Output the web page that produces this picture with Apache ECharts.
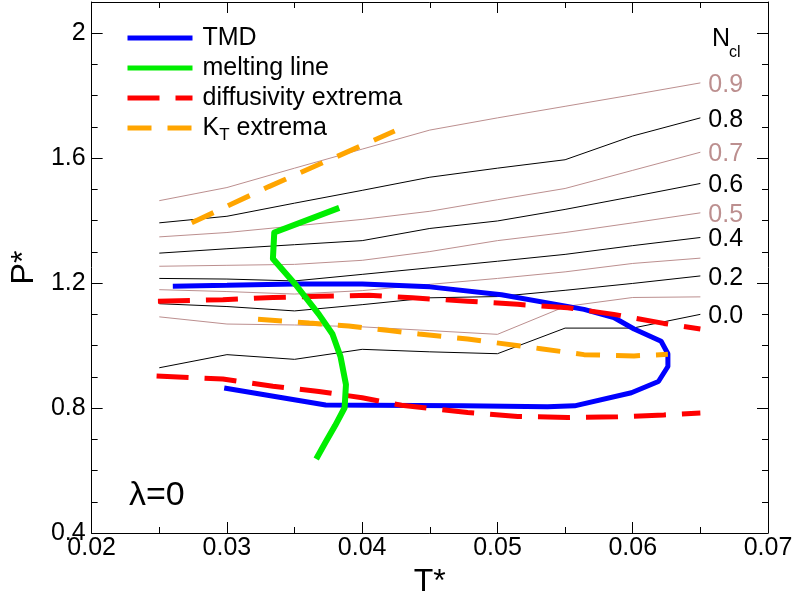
<!DOCTYPE html>
<html>
<head>
<meta charset="utf-8">
<script src="https://cdn.jsdelivr.net/npm/echarts@6/dist/echarts.min.js"></script>
<style>
  html, body { margin: 0; padding: 0; background: #ffffff; }
  #chart { width: 797px; height: 603px; }
</style>
</head>
<body>
<div id="chart"></div>
<script>
// Temperature grid of the cluster-fraction contours
const tGrid = [0.025, 0.030, 0.035, 0.040, 0.045, 0.050, 0.055, 0.060, 0.065];

// Pressure of each N_cl iso-line along tGrid
const ncl00 = [0.929, 0.971, 0.956, 0.988, 0.980, 0.974, 1.056, 1.056, 1.100];
const ncl01 = [1.092, 1.069, 1.066, 1.060, 1.048, 1.036, 1.125, 1.154, 1.156];
const ncl02 = [1.134, 1.125, 1.111, 1.131, 1.153, 1.157, 1.177, 1.199, 1.223];
const ncl03 = [1.179, 1.173, 1.165, 1.176, 1.196, 1.215, 1.236, 1.263, 1.280];
const ncl04 = [1.215, 1.213, 1.207, 1.228, 1.249, 1.270, 1.292, 1.320, 1.346];
const ncl05 = [1.254, 1.257, 1.260, 1.273, 1.301, 1.336, 1.362, 1.393, 1.425];
const ncl06 = [1.296, 1.310, 1.323, 1.336, 1.375, 1.399, 1.436, 1.477, 1.519];
const ncl07 = [1.348, 1.362, 1.383, 1.404, 1.430, 1.467, 1.503, 1.561, 1.619];
const ncl08 = [1.393, 1.414, 1.456, 1.497, 1.539, 1.568, 1.595, 1.671, 1.729];
const ncl09 = [1.464, 1.506, 1.568, 1.629, 1.690, 1.729, 1.766, 1.803, 1.841];

const nclLevels = ['0.0', '0.1', '0.2', '0.3', '0.4', '0.5', '0.6', '0.7', '0.8', '0.9'];
const nclLines = [ncl00, ncl01, ncl02, ncl03, ncl04, ncl05, ncl06, ncl07, ncl08, ncl09];
const nclLabelled = ['0.0', '0.2', '0.4', '0.5', '0.6', '0.7', '0.8', '0.9'];

// Temperature of maximum density
const tmdT = [0.0260, 0.0300, 0.0350, 0.0400, 0.0450, 0.0503, 0.0564, 0.0586, 0.0601, 0.0621,
              0.0626, 0.0626, 0.0619, 0.0599, 0.0557, 0.0537, 0.0474, 0.0373, 0.0298];
const tmdP = [1.190, 1.193, 1.197, 1.197, 1.188, 1.163, 1.116, 1.090, 1.053, 1.014,
              0.974, 0.933, 0.885, 0.849, 0.807, 0.804, 0.807, 0.810, 0.864];

// Melting line
const meltT = [0.0383, 0.0335, 0.0334, 0.0351, 0.0368, 0.0378, 0.0384, 0.0388, 0.0387, 0.0380, 0.0373, 0.0366];
const meltP = [1.441, 1.362, 1.278, 1.194, 1.100, 1.037, 0.964, 0.875, 0.801, 0.744, 0.691, 0.637];

// Diffusivity extrema (maxima above, minima below)
const diffMaxT = [0.0249, 0.0297, 0.0334, 0.0368, 0.0405, 0.0437, 0.0478, 0.0515, 0.0552, 0.0586, 0.0623, 0.0650];
const diffMaxP = [1.142, 1.147, 1.154, 1.158, 1.161, 1.153, 1.142, 1.132, 1.121, 1.100, 1.071, 1.053];
const diffMinT = [0.0248, 0.0297, 0.0334, 0.0368, 0.0400, 0.0429, 0.0478, 0.0515, 0.0552, 0.0589, 0.0623, 0.0650];
const diffMinP = [0.903, 0.893, 0.870, 0.853, 0.833, 0.809, 0.786, 0.773, 0.770, 0.772, 0.778, 0.784];

// Isothermal compressibility extrema
const ktUpperT = [0.0274, 0.0331, 0.0424];
const ktUpperP = [1.393, 1.509, 1.687];
const ktLowerT = [0.0323, 0.0361, 0.0390, 0.0420, 0.0442, 0.0478, 0.0532, 0.0564, 0.0601, 0.0626];
const ktLowerP = [1.084, 1.072, 1.063, 1.048, 1.037, 1.021, 0.990, 0.971, 0.967, 0.972];

// Axis ticks
const xTicks = { min: 0.02, max: 0.07, step: 0.01 };
const yTicks = { min: 0.4, max: 2.1, step: 0.4 };

const FONT = "'Liberation Sans', Arial, Helvetica, sans-serif";
const BROWN = '#bc8f8f';

const pairs = (xs, ys) => xs.map((x, i) => [x, ys[i]]);

const series = [];

nclLines.forEach((vals, k) => {
  const level = nclLevels[k];
  const colour = k % 2 === 0 ? '#000000' : BROWN;
  series.push({
    type: 'line',
    name: 'Ncl ' + level,
    data: pairs(tGrid, vals),
    symbol: 'none',
    z: 1,
    lineStyle: { color: colour, width: 1 },
    endLabel: {
      show: nclLabelled.indexOf(level) >= 0,
      formatter: () => level,
      color: colour,
      fontFamily: FONT,
      fontSize: 25,
      distance: 8,
      offset: [0, 2]
    }
  });
});

series.push({
  type: 'line', name: 'TMD', data: pairs(tmdT, tmdP), symbol: 'none', z: 3,
  lineStyle: { color: '#0000ff', width: 5, cap: 'butt' }
});
series.push({
  type: 'line', name: 'diffusivity extrema', data: pairs(diffMaxT, diffMaxP), symbol: 'none', z: 4,
  lineStyle: { color: '#ff0000', width: 5, type: [32, 16], cap: 'butt' }
});
series.push({
  type: 'line', name: 'diffusivity extrema', data: pairs(diffMinT, diffMinP), symbol: 'none', z: 4,
  lineStyle: { color: '#ff0000', width: 5, type: [32, 16], cap: 'butt' }
});
series.push({
  type: 'line', name: 'KT extrema', data: pairs(ktUpperT, ktUpperP), symbol: 'none', z: 5,
  lineStyle: { color: '#ffa500', width: 5, type: [24, 16], cap: 'butt' }
});
series.push({
  type: 'line', name: 'KT extrema', data: pairs(ktLowerT, ktLowerP), symbol: 'none', z: 5,
  lineStyle: { color: '#ffa500', width: 5, type: [24, 16], cap: 'butt' }
});
series.push({
  type: 'line', name: 'melting line', data: pairs(meltT, meltP), symbol: 'none', z: 6,
  lineStyle: { color: '#00ee00', width: 6, cap: 'butt', join: 'round' }
});

const axisLine = { show: true, onZero: false, lineStyle: { color: '#000', width: 1 } };
const axisTick = { show: true, inside: true, length: 11, lineStyle: { color: '#000' } };
const noSplit = { show: false };

const chart = echarts.init(document.getElementById('chart'), null, { renderer: 'canvas' });

chart.setOption({
  animation: false,
  backgroundColor: '#ffffff',
  grid: { left: 88, right: 29, top: 2, bottom: 60, containLabel: false },
  legend: {
    data: ['TMD', 'melting line', 'diffusivity extrema', 'KT extrema'],
    orient: 'vertical',
    left: 120,
    top: 20,
    padding: 5,
    itemWidth: 65,
    itemHeight: 4,
    itemGap: 4,
    selectedMode: false,
    itemStyle: { color: 'rgba(0,0,0,0)', borderColor: 'rgba(0,0,0,0)', borderWidth: 0, opacity: 0 },
    lineStyle: { width: 5 },
    formatter: (name) => name === 'KT extrema' ? '{k|K}{t|T}{k| extrema}' : name,
    textStyle: {
      fontFamily: FONT,
      fontSize: 25,
      color: '#000',
      lineHeight: 26,
      padding: [0, 0, 0, 5],
      rich: {
        k: { fontFamily: FONT, fontSize: 25, color: '#000' },
        t: { fontFamily: FONT, fontSize: 17, color: '#000', padding: [14, 0, 0, 0] }
      }
    }
  },
  xAxis: [
    {
      type: 'value', position: 'bottom',
      min: xTicks.min, max: xTicks.max, interval: xTicks.step,
      axisLine: axisLine, axisTick: axisTick, splitLine: noSplit,
      minorTick: { show: true, splitNumber: 2, length: 6, lineStyle: { color: '#000' } },
      axisLabel: {
        show: true, margin: 3, fontFamily: FONT, fontSize: 25, color: '#000',
        formatter: (v) => v.toFixed(2)
      },
      name: 'T*', nameLocation: 'middle', nameGap: 33,
      nameTextStyle: { fontFamily: FONT, fontSize: 32, color: '#000' }
    },
    {
      type: 'value', position: 'top',
      min: xTicks.min, max: xTicks.max, interval: xTicks.step,
      axisLine: axisLine, axisTick: axisTick, splitLine: noSplit,
      minorTick: { show: true, splitNumber: 2, length: 6, lineStyle: { color: '#000' } },
      axisLabel: { show: false }
    }
  ],
  yAxis: [
    {
      type: 'value', position: 'left',
      min: yTicks.min, max: yTicks.max, interval: yTicks.step,
      axisLine: axisLine, axisTick: axisTick, splitLine: noSplit,
      minorTick: { show: true, splitNumber: 4, length: 6, lineStyle: { color: '#000' } },
      axisLabel: {
        show: true, margin: 6, fontFamily: FONT, fontSize: 25, color: '#000',
        showMaxLabel: false,
        formatter: (v) => String(Math.round(v * 10) / 10)
      },
      name: 'P*', nameLocation: 'middle', nameGap: 35, nameRotate: 90,
      nameTextStyle: { fontFamily: FONT, fontSize: 32, color: '#000' }
    },
    {
      type: 'value', position: 'right',
      min: yTicks.min, max: yTicks.max, interval: yTicks.step,
      axisLine: axisLine, axisTick: axisTick, splitLine: noSplit,
      minorTick: { show: true, splitNumber: 4, length: 6, lineStyle: { color: '#000' } },
      axisLabel: { show: false }
    }
  ],
  graphic: [
    {
      type: 'text', left: 712, top: 27, z: 10,
      style: { text: 'N', fontFamily: FONT, fontSize: 25, fill: '#000' }
    },
    {
      type: 'text', left: 729, top: 45, z: 10,
      style: { text: 'cl', fontFamily: FONT, fontSize: 16, fill: '#000' }
    },
    {
      type: 'text', left: 129, top: 479, z: 10,
      style: { text: 'λ=0', fontFamily: FONT, fontSize: 34, fill: '#000' }
    }
  ],
  series: series
});
</script>
</body>
</html>
